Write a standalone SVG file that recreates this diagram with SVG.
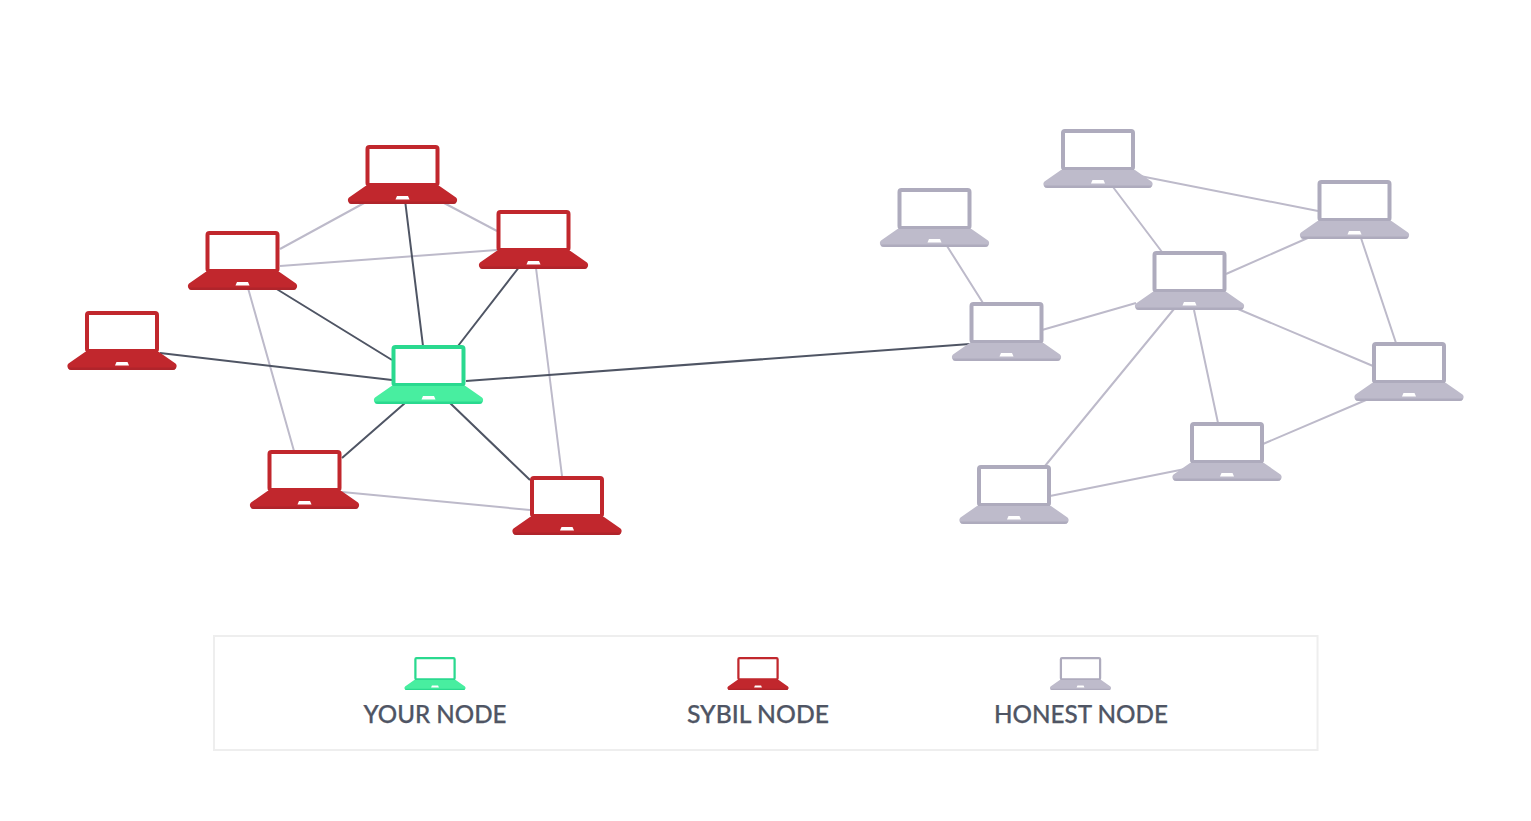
<svg xmlns="http://www.w3.org/2000/svg" width="1531" height="821" viewBox="0 0 1531 821">
<style>
.dark{stroke:#4f5564;stroke-width:2;fill:none}
.light{stroke:#bdbaca;stroke-width:2;fill:none}
.legendtext{font-family:"Lato","Liberation Sans",sans-serif;font-size:24px;font-weight:500;fill:#4f5564;stroke:#4f5564;stroke-width:.25px;text-anchor:middle}
.red{--frame:#c1272d;--deck:#c1272d;--strip:#b0242b}
.green{--frame:#2ad98f;--deck:#48eea0;--strip:#2ad98f}
.grey{--frame:#aeabbd;--deck:#bebbcb;--strip:#aeabbd}
.frame{stroke:var(--frame);fill:#fff;stroke-width:4px}
.deck{fill:var(--deck)}
.strip{fill:var(--strip)}
</style>
<defs>
<g id="laptop">
<rect class="frame" x="-35" y="2" width="70" height="38" rx="2"/>
<path class="deck" d="M-37 41H37L53.500 52.500Q55.500 54.500 54 57Q53 59 50.500 59H-50.500Q-53 59 -54 57Q-55.500 54.500 -53.500 52.500Z"/>
<path class="strip" d="M-54.300 56.500H54.300Q53.500 59 50.500 59H-50.500Q-53.500 59 -54.300 56.500Z"/>
<path d="M-5.500 51H5.500L7 54.500H-7Z" fill="#fff"/>
</g>
</defs>
<rect width="1531" height="821" fill="#fff"/>
<g id="connectors">
<path class="light" d="M280 249L366 202M444 203L497 231M280 266L497 250M248 288L294 451M536 268L562 476M342 492L530 510M947 246L983 303M1042 330L1136 303M1113 187L1162 252M1140 176L1318 211M1226 274L1310 237M1361 238L1396 343M1238 309L1373 366M1194 310L1218 423M1174 309L1045 466M1050 496L1190 468M1263 444L1366 400"/>
<path class="dark" d="M160 353L392 380M275 288L392 360M405 200L423 346M520 266L458 346M342 458L405 403M450 403L530 480M466 381L970 344"/>
</g>
<g id="node-top" class="red" transform="translate(402.500 145)"><use href="#laptop"/></g>
<g id="node-right" class="red" transform="translate(533.500 210)"><use href="#laptop"/></g>
<g id="node-left" class="red" transform="translate(242.500 231)"><use href="#laptop"/></g>
<g id="node-far-left" class="red" transform="translate(122 311)"><use href="#laptop"/></g>
<g id="node-you" class="green" transform="translate(428.500 345)"><use href="#laptop"/></g>
<g id="node-bottom-left" class="red" transform="translate(304.500 450)"><use href="#laptop"/></g>
<g id="node-bottom-right" class="red" transform="translate(567 476)"><use href="#laptop"/></g>
<g id="honest-1" class="grey" transform="translate(934.500 188)"><use href="#laptop"/></g>
<g id="honest-2" class="grey" transform="translate(1098 129)"><use href="#laptop"/></g>
<g id="honest-3" class="grey" transform="translate(1354.500 180)"><use href="#laptop"/></g>
<g id="honest-4" class="grey" transform="translate(1189.500 251)"><use href="#laptop"/></g>
<g id="honest-5" class="grey" transform="translate(1006.500 302)"><use href="#laptop"/></g>
<g id="honest-6" class="grey" transform="translate(1409 342)"><use href="#laptop"/></g>
<g id="honest-7" class="grey" transform="translate(1227 422)"><use href="#laptop"/></g>
<g id="honest-8" class="grey" transform="translate(1014 465)"><use href="#laptop"/></g>
<g id="legend">
<rect x="214" y="636" width="1103.500" height="114" fill="#fff" stroke="#eeeeee" stroke-width="2"/>
<g id="legend-you"><g class="green" transform="translate(435 657) scale(.56)"><use href="#laptop"/></g><text class="legendtext" x="435" y="722.500" textLength="143" lengthAdjust="spacingAndGlyphs">YOUR NODE</text></g>
<g id="legend-sybil"><g class="red" transform="translate(758 657) scale(.56)"><use href="#laptop"/></g><text class="legendtext" x="758" y="722.500" textLength="142" lengthAdjust="spacingAndGlyphs">SYBIL NODE</text></g>
<g id="legend-honest"><g class="grey" transform="translate(1080.500 657) scale(.56)"><use href="#laptop"/></g><text class="legendtext" x="1081" y="722.500" textLength="174" lengthAdjust="spacingAndGlyphs">HONEST NODE</text></g>
</g>
</svg>
